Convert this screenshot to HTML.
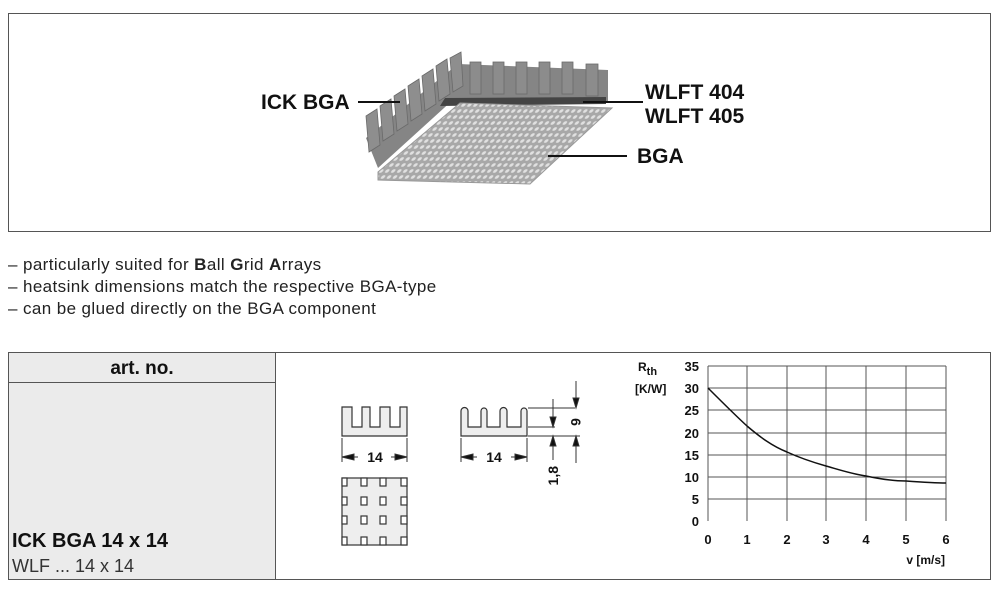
<!DOCTYPE html>
<html><head><meta charset="utf-8"><style>
body{margin:0;background:#fff;}
svg{display:block;font-family:"Liberation Sans",sans-serif;}
</style></head><body>
<svg width="1000" height="597" viewBox="0 0 1000 597">
<defs>
<pattern id="dots" width="6" height="6" patternUnits="userSpaceOnUse" patternTransform="skewX(-35)">
<rect width="6" height="6" fill="#a8a8a8"/><circle cx="3" cy="3" r="1.8" fill="#e0e0e0"/>
</pattern>
</defs>
<rect x="8.5" y="13.5" width="982" height="218" fill="none" stroke="#555" stroke-width="1"/>
<!-- heatsink -->
<g>
<polygon points="366,138 458,64 608,70 608,102 455,98 378,168" fill="#858585"/>
<g fill="#8e8e8e" stroke="#6a6a6a" stroke-width="0.8">
<polygon points="366,116 377,109 380,145 369,152"/>
<polygon points="380,106 391,99 394,134 383,141"/>
<polygon points="394,96 405,89 408,124 397,131"/>
<polygon points="408,86 419,79 422,114 411,121"/>
<polygon points="422,76 433,69 436,104 425,111"/>
<polygon points="436,66 447,59 450,94 439,101"/>
<polygon points="450,58 461,52 463,86 453,92"/>
</g>
<g fill="#8c8c8c" stroke="#6a6a6a" stroke-width="0.8">
<rect x="470" y="62" width="11" height="32"/>
<rect x="493" y="62" width="11" height="32"/>
<rect x="516" y="62" width="11" height="32"/>
<rect x="539" y="62" width="11" height="32"/>
<rect x="562" y="62" width="11" height="32"/>
<rect x="586" y="64" width="12" height="32"/>
</g>
<polygon points="445,98 606,97 606,104 440,106" fill="#444"/>
<polygon points="378,172 460,103 612,108 530,184 378,180" fill="url(#dots)" stroke="#999"/>
</g>
<g stroke="#111" stroke-width="2">
<line x1="358" y1="102" x2="400" y2="102"/>
<line x1="583" y1="102" x2="643" y2="102"/>
<line x1="548" y1="156" x2="627" y2="156"/>
</g>
<g font-weight="bold" font-size="21" fill="#111">
<text x="261" y="109">ICK BGA</text>
<text x="645" y="99">WLFT 404</text>
<text x="645" y="123">WLFT 405</text>
<text x="637" y="163">BGA</text>
</g>
<g font-size="17" fill="#222" letter-spacing="0.4">
<text x="8" y="270">– particularly suited for <tspan font-weight="bold">B</tspan>all <tspan font-weight="bold">G</tspan>rid <tspan font-weight="bold">A</tspan>rrays</text>
<text x="8" y="292">– heatsink dimensions match the respective BGA-type</text>
<text x="8" y="314">– can be glued directly on the BGA component</text>
</g>
<!-- table -->
<rect x="8.5" y="352.5" width="267" height="227" fill="#ebebeb"/>
<rect x="8.5" y="352.5" width="982" height="227" fill="none" stroke="#555"/>
<line x1="275.5" y1="352" x2="275.5" y2="580" stroke="#555"/>
<line x1="8" y1="382.5" x2="275" y2="382.5" stroke="#555"/>
<text x="142" y="374" text-anchor="middle" font-weight="bold" font-size="19" fill="#111">art. no.</text>
<text x="12" y="547" font-weight="bold" font-size="20" fill="#111">ICK BGA 14 x 14</text>
<text x="12" y="572" font-size="18" fill="#333">WLF ... 14 x 14</text>
<!-- drawings -->
<g stroke="#333" stroke-width="1.2" fill="#eee">
<path d="M342,407 H352 V427 H362 V407 H370 V427 H380 V407 H390 V427 H400 V407 H407 V436 H342 Z"/>
<path d="M461,436 V411 a3.5,3.5 0 0 1 7,0 V427 H481 V411 a3,3 0 0 1 6,0 V427 H500 V411 a3.5,3.5 0 0 1 7,0 V427 H521 V411 a3,3 0 0 1 6,0 V436 Z"/>
<rect x="342" y="478" width="65" height="67"/>
</g>
<g stroke="#333" stroke-width="1.2" fill="#fff">
<rect x="342" y="478" width="5" height="8"/><rect x="361" y="478" width="6" height="8"/><rect x="380" y="478" width="6" height="8"/><rect x="401" y="478" width="6" height="8"/>
<rect x="342" y="497" width="5" height="8"/><rect x="361" y="497" width="6" height="8"/><rect x="380" y="497" width="6" height="8"/><rect x="401" y="497" width="6" height="8"/>
<rect x="342" y="516" width="5" height="8"/><rect x="361" y="516" width="6" height="8"/><rect x="380" y="516" width="6" height="8"/><rect x="401" y="516" width="6" height="8"/>
<rect x="342" y="537" width="5" height="8"/><rect x="361" y="537" width="6" height="8"/><rect x="380" y="537" width="6" height="8"/><rect x="401" y="537" width="6" height="8"/>
</g>
<g stroke="#333" stroke-width="1" fill="#111">
<line x1="342" y1="438" x2="342" y2="462"/><line x1="407" y1="438" x2="407" y2="462"/>
<line x1="343" y1="457" x2="358" y2="457"/><line x1="391" y1="457" x2="406" y2="457"/>
<polygon points="342,457 354,454 354,460"/><polygon points="407,457 395,454 395,460"/>
<line x1="461" y1="438" x2="461" y2="462"/><line x1="527" y1="438" x2="527" y2="462"/>
<line x1="462" y1="457" x2="477" y2="457"/><line x1="511" y1="457" x2="526" y2="457"/>
<polygon points="461,457 473,454 473,460"/><polygon points="527,457 515,454 515,460"/>
<line x1="528" y1="408" x2="575" y2="408"/><line x1="528" y1="427" x2="555" y2="427"/><line x1="528" y1="436" x2="580" y2="436"/>
<line x1="553" y1="399" x2="553" y2="427"/><polygon points="553,427 550,417 556,417"/>
<line x1="553" y1="436" x2="553" y2="460"/><polygon points="553,436 550,446 556,446"/>
<line x1="576" y1="381" x2="576" y2="408"/><polygon points="576,408 573,398 579,398"/>
<line x1="576" y1="436" x2="576" y2="463"/><polygon points="576,436 573,446 579,446"/>
</g>
<g font-weight="bold" font-size="14" fill="#111">
<text x="375" y="462" text-anchor="middle">14</text>
<text x="494" y="462" text-anchor="middle">14</text>
<text transform="translate(571,422) rotate(90)" text-anchor="middle">6</text>
<text transform="translate(558,466) rotate(-90)" text-anchor="end">1,8</text>
</g>
<!-- chart -->
<g stroke="#555" stroke-width="1">
<line x1="708" y1="366" x2="946" y2="366"/><line x1="708" y1="388" x2="946" y2="388"/>
<line x1="708" y1="410" x2="946" y2="410"/><line x1="708" y1="433" x2="946" y2="433"/>
<line x1="708" y1="455" x2="946" y2="455"/><line x1="708" y1="477" x2="946" y2="477"/>
<line x1="708" y1="499" x2="946" y2="499"/>
<line x1="708" y1="366" x2="708" y2="521"/><line x1="747" y1="366" x2="747" y2="521"/>
<line x1="787" y1="366" x2="787" y2="521"/><line x1="826" y1="366" x2="826" y2="521"/>
<line x1="866" y1="366" x2="866" y2="521"/><line x1="906" y1="366" x2="906" y2="521"/>
<line x1="946" y1="366" x2="946" y2="521"/>
</g>
<path d="M708,388 C720,400 735,415 747,426 C760,437 772,446 787,452 C800,458 812,462 826,466 C840,470 852,474 866,476 C880,479 893,481 906,481 C920,482 935,483 946,483" fill="none" stroke="#111" stroke-width="1.5"/>
<g font-weight="bold" font-size="13" fill="#111" text-anchor="end">
<text x="699" y="371">35</text><text x="699" y="393">30</text><text x="699" y="415">25</text>
<text x="699" y="438">20</text><text x="699" y="460">15</text><text x="699" y="482">10</text>
<text x="699" y="504">5</text><text x="699" y="526">0</text>
</g>
<g font-weight="bold" font-size="13" fill="#111" text-anchor="middle">
<text x="708" y="544">0</text><text x="747" y="544">1</text><text x="787" y="544">2</text>
<text x="826" y="544">3</text><text x="866" y="544">4</text><text x="906" y="544">5</text><text x="946" y="544">6</text>
</g>
<text x="945" y="564" text-anchor="end" font-size="12" font-weight="bold" fill="#111">v [m/s]</text>
<text x="638" y="371" font-size="12" font-weight="bold" fill="#111">R<tspan dy="4" font-size="11">th</tspan></text>
<text x="635" y="393" font-size="12" font-weight="bold" fill="#111">[K/W]</text>
</svg>
</body></html>
